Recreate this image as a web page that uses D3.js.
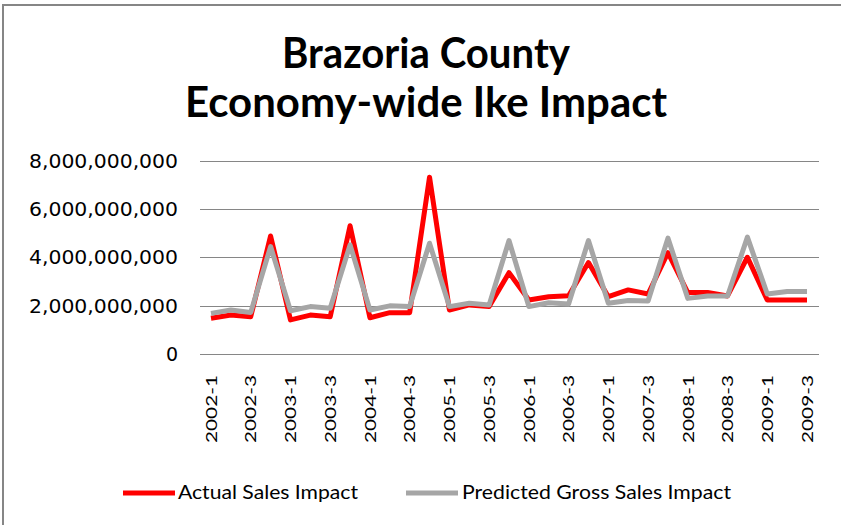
<!DOCTYPE html>
<html>
<head>
<meta charset="utf-8">
<script src="https://cdn.jsdelivr.net/npm/d3@7"></script>
<style>
  html, body { margin: 0; padding: 0; background: #fff; }
  svg { display: block; }
</style>
</head>
<body>
<div id="chart"></div>
<script>
/* Chart data */
const quarters = [
  '2002-1', '2002-2', '2002-3', '2002-4',
  '2003-1', '2003-2', '2003-3', '2003-4',
  '2004-1', '2004-2', '2004-3', '2004-4',
  '2005-1', '2005-2', '2005-3', '2005-4',
  '2006-1', '2006-2', '2006-3', '2006-4',
  '2007-1', '2007-2', '2007-3', '2007-4',
  '2008-1', '2008-2', '2008-3', '2008-4',
  '2009-1', '2009-2', '2009-3'
];
const actualSales = [
  1.48e9, 1.61e9, 1.54e9, 4.88e9,
  1.41e9, 1.61e9, 1.54e9, 5.30e9,
  1.50e9, 1.71e9, 1.71e9, 7.31e9,
  1.82e9, 2.03e9, 1.96e9, 3.36e9,
  2.23e9, 2.37e9, 2.41e9, 3.78e9,
  2.37e9, 2.65e9, 2.48e9, 4.19e9,
  2.54e9, 2.54e9, 2.40e9, 4.00e9,
  2.23e9, 2.23e9, 2.23e9
];
const predictedSales = [
  1.68e9, 1.82e9, 1.72e9, 4.44e9,
  1.79e9, 1.96e9, 1.89e9, 4.51e9,
  1.82e9, 1.99e9, 1.96e9, 4.58e9,
  1.96e9, 2.10e9, 2.03e9, 4.69e9,
  1.96e9, 2.12e9, 2.07e9, 4.69e9,
  2.10e9, 2.21e9, 2.19e9, 4.79e9,
  2.30e9, 2.40e9, 2.40e9, 4.83e9,
  2.48e9, 2.58e9, 2.58e9
];
const yTicks = [0, 2e9, 4e9, 6e9, 8e9];
const titleLines = ['Brazoria County', 'Economy-wide Ike Impact'];
const seriesNames = ['Actual Sales Impact', 'Predicted Gross Sales Impact'];

const WIDTH = 841;
const HEIGHT = 525;
const COLORS = { actual: '#ff0000', predicted: '#a6a6a6', grid: '#868686', text: '#000' };
const LABEL_FONT = 'Lato, "Open Sans", sans-serif';

const svg = d3.select('#chart')
  .append('svg')
  .attr('width', WIDTH)
  .attr('height', HEIGHT);

// chart frame (only top and left edges fall inside the picture)
svg.append('rect')
  .attr('x', 3)
  .attr('y', 5)
  .attr('width', 900)
  .attr('height', 600)
  .attr('fill', '#fff')
  .attr('stroke', COLORS.grid)
  .attr('stroke-width', 2);

const x = d3.scalePoint()
  .domain(quarters)
  .range([211, 807]);

const y = d3.scaleLinear()
  .domain([0, 8e9])
  .range([354, 160.5]);

// gridlines
svg.append('g')
  .selectAll('line')
  .data(yTicks)
  .join('line')
  .attr('x1', 200)
  .attr('x2', 819)
  .attr('y1', (d) => Math.round(y(d)) + 0.5)
  .attr('y2', (d) => Math.round(y(d)) + 0.5)
  .attr('stroke', COLORS.grid)
  .attr('stroke-width', 1);

// y axis labels
const fmt = d3.format(',');
svg.append('g')
  .selectAll('text')
  .data(yTicks)
  .join('text')
  .attr('x', 178)
  .attr('y', (d) => y(d) + 7)
  .attr('text-anchor', 'end')
  .style('font-family', '"DejaVu Sans", Verdana, sans-serif')
  .style('font-size', '19px')
  .style('fill', COLORS.text)
  .each(function (d) {
    if (d !== 0) d3.select(this).attr('textLength', 149).attr('lengthAdjust', 'spacingAndGlyphs');
  })
  .text((d) => fmt(d));

// x axis labels, every second quarter
svg.append('g')
  .selectAll('text')
  .data(quarters.filter((q, i) => i % 2 === 0))
  .join('text')
  .attr('transform', (d) => `translate(${x(d)},375) rotate(-90)`)
  .attr('text-anchor', 'end')
  .attr('dy', '0.36em')
  .attr('textLength', 68)
  .attr('lengthAdjust', 'spacingAndGlyphs')
  .style('font-family', LABEL_FONT)
  .style('font-size', '16px')
  .style('fill', COLORS.text)
  .text((d) => d);

// series lines
const line = d3.line()
  .x((d, i) => x(quarters[i]))
  .y((d) => y(d));

[[actualSales, COLORS.actual], [predictedSales, COLORS.predicted]].forEach(([values, color]) => {
  svg.append('path')
    .datum(values)
    .attr('d', line)
    .attr('fill', 'none')
    .attr('stroke', color)
    .attr('stroke-width', 5)
    .attr('stroke-linejoin', 'round');
});

// title
svg.append('g')
  .selectAll('text')
  .data(titleLines)
  .join('text')
  .attr('x', 426)
  .attr('y', (d, i) => 68 + i * 48.5)
  .attr('text-anchor', 'middle')
  .attr('textLength', (d, i) => (i === 0 ? 288 : 482))
  .attr('lengthAdjust', 'spacingAndGlyphs')
  .style('font-family', LABEL_FONT)
  .style('font-weight', 'bold')
  .style('font-size', '42px')
  .style('fill', COLORS.text)
  .text((d) => d);

// legend
const legendItems = [
  { name: seriesNames[0], color: COLORS.actual, x1: 123, x2: 175, tx: 178, len: 180 },
  { name: seriesNames[1], color: COLORS.predicted, x1: 406, x2: 458, tx: 462, len: 269 }
];
const legend = svg.append('g');
legendItems.forEach((item) => {
  legend.append('line')
    .attr('x1', item.x1)
    .attr('x2', item.x2)
    .attr('y1', 493)
    .attr('y2', 493)
    .attr('stroke', item.color)
    .attr('stroke-width', 5);
  legend.append('text')
    .attr('x', item.tx)
    .attr('y', 499)
    .attr('textLength', item.len)
    .attr('lengthAdjust', 'spacingAndGlyphs')
    .style('font-family', LABEL_FONT)
    .style('font-size', '19px')
    .style('fill', COLORS.text)
    .text(item.name);
});
</script>
</body>
</html>
